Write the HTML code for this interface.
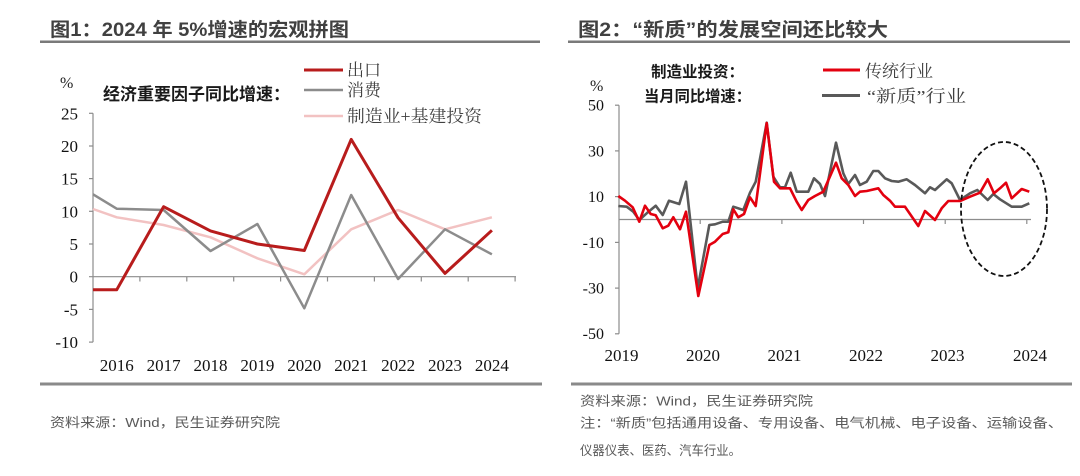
<!DOCTYPE html>
<html><head><meta charset="utf-8"><style>
html,body{margin:0;padding:0;background:#fff;}
svg{display:block;}
.sans{font-family:"Liberation Sans","Noto Sans CJK SC",sans-serif;}
.serif{font-family:"Liberation Serif","Noto Serif CJK SC",serif;}
</style></head><body>
<svg width="1080" height="476" viewBox="0 0 1080 476" xmlns="http://www.w3.org/2000/svg">
<rect width="1080" height="476" fill="#fff"/>

<!-- Titles -->
<text class="sans" x="50" y="36" font-size="19" font-weight="bold" fill="#404040" textLength="299" lengthAdjust="spacingAndGlyphs">图1：2024 年 5%增速的宏观拼图</text>
<text class="sans" x="578" y="36" font-size="19" font-weight="bold" fill="#404040" textLength="310" lengthAdjust="spacingAndGlyphs">图2：“新质”的发展空间还比较大</text>
<rect x="40" y="40.5" width="500" height="2.5" fill="#7a7a7a"/>
<rect x="568" y="40.5" width="502" height="2.5" fill="#7a7a7a"/>

<!-- ===== LEFT CHART ===== -->
<text class="serif" x="60" y="88" font-size="16" fill="#222">%</text>
<text class="sans" x="103" y="100" font-size="17" font-weight="bold" fill="#1a1a1a" textLength="187" lengthAdjust="spacingAndGlyphs">经济重要因子同比增速：</text>
<line x1="304" y1="70" x2="343" y2="70" stroke="#b81c1c" stroke-width="3"/>
<line x1="304" y1="90" x2="343" y2="90" stroke="#8c8c8c" stroke-width="2.5"/>
<line x1="304" y1="116" x2="343" y2="116" stroke="#f2c2c2" stroke-width="2.5"/>
<text class="serif" x="347" y="76" font-size="17" fill="#404040" textLength="34" lengthAdjust="spacingAndGlyphs">出口</text>
<text class="serif" x="347" y="96" font-size="17" fill="#404040" textLength="34" lengthAdjust="spacingAndGlyphs">消费</text>
<text class="serif" x="347" y="122" font-size="17" fill="#404040" textLength="135" lengthAdjust="spacingAndGlyphs">制造业+基建投资</text>

<!-- left axes -->
<g stroke="#8c8c8c" stroke-width="1.2" fill="none">
<line x1="93" y1="113.3" x2="93" y2="342.1"/>
<line x1="89" y1="113.3" x2="93" y2="113.3"/>
<line x1="89" y1="146" x2="93" y2="146"/>
<line x1="89" y1="178.6" x2="93" y2="178.6"/>
<line x1="89" y1="211.3" x2="93" y2="211.3"/>
<line x1="89" y1="244" x2="93" y2="244"/>
<line x1="89" y1="309.4" x2="93" y2="309.4"/>
<line x1="89" y1="342.1" x2="93" y2="342.1"/>
<line x1="89" y1="276.7" x2="516" y2="276.7"/>
<line x1="139.9" y1="276.7" x2="139.9" y2="281.5"/>
<line x1="186.8" y1="276.7" x2="186.8" y2="281.5"/>
<line x1="233.7" y1="276.7" x2="233.7" y2="281.5"/>
<line x1="280.6" y1="276.7" x2="280.6" y2="281.5"/>
<line x1="327.5" y1="276.7" x2="327.5" y2="281.5"/>
<line x1="374.4" y1="276.7" x2="374.4" y2="281.5"/>
<line x1="421.3" y1="276.7" x2="421.3" y2="281.5"/>
<line x1="468.2" y1="276.7" x2="468.2" y2="281.5"/>
<line x1="515.1" y1="276.7" x2="515.1" y2="281.5"/>
</g>
<g class="serif" font-size="17" fill="#111" text-anchor="end">
<text x="78" y="119.3">25</text>
<text x="78" y="152">20</text>
<text x="78" y="184.6">15</text>
<text x="78" y="217.3">10</text>
<text x="78" y="250">5</text>
<text x="78" y="282.7">0</text>
<text x="78" y="315.4">-5</text>
<text x="78" y="348.1">-10</text>
</g>
<g class="serif" font-size="17" fill="#111" text-anchor="middle">
<text x="116.7" y="371">2016</text>
<text x="163.6" y="371">2017</text>
<text x="210.5" y="371">2018</text>
<text x="257.4" y="371">2019</text>
<text x="304.3" y="371">2020</text>
<text x="351.2" y="371">2021</text>
<text x="398.1" y="371">2022</text>
<text x="445" y="371">2023</text>
<text x="491.9" y="371">2024</text>
</g>
<polyline fill="none" stroke="#f2c2c2" stroke-width="2.5" stroke-linejoin="round" points="93,209 116.7,217.3 163.6,225 210.5,237.3 257.4,258.3 304.3,274.3 351.2,229.3 398.1,210 445,229.3 491.9,217.3"/>
<polyline fill="none" stroke="#8c8c8c" stroke-width="2.5" stroke-linejoin="round" points="93,194.3 116.7,208.7 163.6,210 210.5,251 257.4,224 304.3,308.3 351.2,195 398.1,279 445,229.3 491.9,254.3"/>
<polyline fill="none" stroke="#b81c1c" stroke-width="3" stroke-linejoin="round" points="93,289.8 116.7,289.8 163.6,206.7 210.5,230.9 257.4,244 304.3,250.5 351.2,139.4 398.1,217.8 445,273.4 491.9,230.3"/>

<!-- ===== RIGHT CHART ===== -->
<text class="serif" x="590" y="91" font-size="16" fill="#222">%</text>
<text class="sans" x="651" y="77" font-size="15.5" font-weight="bold" fill="#1a1a1a" textLength="93" lengthAdjust="spacingAndGlyphs">制造业投资：</text>
<text class="sans" x="644" y="101.5" font-size="15.5" font-weight="bold" fill="#1a1a1a" textLength="107" lengthAdjust="spacingAndGlyphs">当月同比增速：</text>
<line x1="823" y1="70" x2="860" y2="70" stroke="#e3000f" stroke-width="3"/>
<line x1="822" y1="95.5" x2="860" y2="95.5" stroke="#595959" stroke-width="3"/>
<text class="serif" x="865" y="77" font-size="17" fill="#404040" textLength="68" lengthAdjust="spacingAndGlyphs">传统行业</text>
<text class="serif" x="867" y="102" font-size="17" fill="#404040" textLength="99" lengthAdjust="spacingAndGlyphs">“新质”行业</text>

<g stroke="#8c8c8c" stroke-width="1.2" fill="none">
<line x1="619" y1="105.2" x2="619" y2="333.8"/>
<line x1="615" y1="105.2" x2="619" y2="105.2"/>
<line x1="615" y1="150.9" x2="619" y2="150.9"/>
<line x1="615" y1="196.6" x2="619" y2="196.6"/>
<line x1="615" y1="242.4" x2="619" y2="242.4"/>
<line x1="615" y1="288.1" x2="619" y2="288.1"/>
<line x1="615" y1="333.8" x2="619" y2="333.8"/>
<line x1="619" y1="219.5" x2="1031" y2="219.5"/>
<line x1="700.2" y1="219.5" x2="700.2" y2="224"/>
<line x1="781.9" y1="219.5" x2="781.9" y2="224"/>
<line x1="863.5" y1="219.5" x2="863.5" y2="224"/>
<line x1="945.2" y1="219.5" x2="945.2" y2="224"/>
<line x1="1026.8" y1="219.5" x2="1026.8" y2="224"/>
</g>
<g class="serif" font-size="16" fill="#111" text-anchor="end">
<text x="604" y="110.6">50</text>
<text x="604" y="156.3">30</text>
<text x="604" y="202">10</text>
<text x="604" y="247.8">-10</text>
<text x="604" y="293.5">-30</text>
<text x="604" y="339.2">-50</text>
</g>
<g class="serif" font-size="17" fill="#111" text-anchor="middle">
<text x="621.5" y="361">2019</text>
<text x="703" y="361">2020</text>
<text x="784.5" y="361">2021</text>
<text x="866" y="361">2022</text>
<text x="947.5" y="361">2023</text>
<text x="1030" y="361">2024</text>
</g>
<polyline fill="none" stroke="#595959" stroke-width="2.6" stroke-linejoin="round" points="618.3,206 626.7,206.7 633.3,211.7 639.3,220 646.7,213.3 655.7,205.7 662.7,215 669,200.7 679.3,204 686,181.7 697.7,288.3 709.3,225 715,224.3 722.7,221.7 728.3,221.7 733.3,206.7 743.3,210 750,192.7 755.7,181.7 766.7,122.7 773.3,176.7 780,187.3 785,187.3 790.7,172.7 796.7,191.7 808.3,191.7 814,178.3 820,184 825,196 836,142.7 843.3,173.3 848.3,184 855,175 860,185 866.7,181.7 873.3,171 878.3,171 885,178.3 891.7,181 898.3,181.7 906.7,179.3 915,185 925,193.3 930,187.3 935,190 946.7,179.3 951.7,183.3 960,200 970,193.3 977.3,190 987.7,200 993.3,194 1000,199.3 1011.7,206.7 1021.7,206.7 1029.3,203.3"/>
<polyline fill="none" stroke="#e3000f" stroke-width="2.6" stroke-linejoin="round" points="618.3,196 625,200.7 632.7,207.3 639.3,221.7 645,205.7 650.7,214 655.7,215.3 662.7,228.3 668.3,225.7 673.3,217.3 680,229.3 686,211.7 698.3,296 709.3,245 715,241.7 722.7,234 728.3,232.3 733.3,209.3 738.3,217.3 744,214 750,197.3 755.7,206 766.7,123 774,181.7 780,188.3 790,188.3 796.7,201.7 801.7,210 808.3,200 815,196 823.3,191.7 836,162.7 841.7,178.3 848.3,185 855,196 860,191.7 866.7,191 878.3,188.3 883.3,195 890,200.7 895,206.7 905,206.7 918.3,226 925,211 935,220 941.7,208.3 948.3,201 960,201 970,196.7 980,192.7 987.7,179.3 994,193.3 1000,188.3 1006,182.7 1011.7,198.3 1021.7,189 1029.3,191.7"/>
<ellipse cx="1004" cy="209" rx="43" ry="67" fill="none" stroke="#111" stroke-width="1.8" stroke-dasharray="5,3"/>

<!-- Bottom rules and notes -->
<rect x="40" y="382.5" width="502" height="3" fill="#8a8a8a"/>
<rect x="571" y="382.5" width="501" height="3" fill="#8a8a8a"/>
<g class="sans" font-size="13" fill="#595959">
<text x="50" y="427" textLength="230" lengthAdjust="spacingAndGlyphs">资料来源：Wind，民生证券研究院</text>
<text x="580" y="405.5" textLength="233" lengthAdjust="spacingAndGlyphs">资料来源：Wind，民生证券研究院</text>
<text x="580" y="427.5" textLength="483" lengthAdjust="spacingAndGlyphs">注：“新质”包括通用设备、专用设备、电气机械、电子设备、运输设备、</text>
<text x="580" y="455" textLength="161" lengthAdjust="spacingAndGlyphs">仪器仪表、医药、汽车行业。</text>
</g>
</svg>
</body></html>
